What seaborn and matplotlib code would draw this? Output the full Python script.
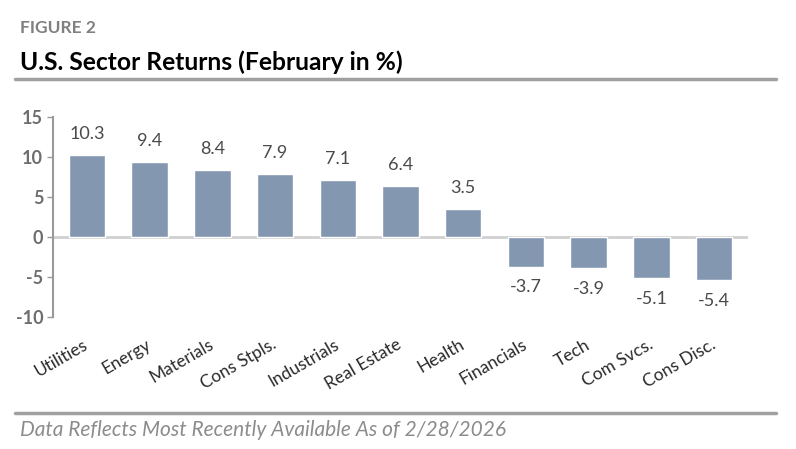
import pandas as pd
import matplotlib.pyplot as plt
import seaborn as sns
from matplotlib.lines import Line2D

# Data
sectors = ['Utilities', 'Energy', 'Materials', 'Cons Stpls.', 'Industrials', 'Real Estate',
           'Health', 'Financials', 'Tech', 'Com Svcs.', 'Cons Disc.']
returns = [10.3, 9.4, 8.4, 7.9, 7.1, 6.4, 3.5, -3.7, -3.9, -5.1, -5.4]
y_ticks = [-10, -5, 0, 5, 10, 15]

df = pd.DataFrame({'Sector': sectors, 'Return': returns})

sns.set_style('white')
plt.rcParams['font.family'] = ['Lato', 'DejaVu Sans']

fig = plt.figure(figsize=(7.96, 4.49), dpi=100)
ax = fig.add_axes([0.0666, 0.294, 0.873, 0.445])

sns.barplot(data=df, x='Sector', y='Return', color='#8497b0', width=0.58,
            saturation=1, ax=ax)

ax.set_xlim(-0.54, len(sectors) - 1 + 0.54)
ax.set_ylim(-10, 15)
ax.set_yticks(y_ticks)
ax.set_yticklabels([str(t) for t in y_ticks], fontsize=13, fontweight='bold', color='#6e6e6e')
ax.axhline(0, color='#d0d0d0', linewidth=2, zorder=0)

# value labels
for i, v in enumerate(returns):
    off = 15 if v > 0 else -15
    ax.annotate(f'{v}', (i, v), xytext=(0, off), textcoords='offset points',
                ha='center', va='center', fontsize=13, color='#4a4a4a')

ax.set_xlabel('')
ax.set_ylabel('')
ax.set_xticks(range(len(sectors)))
ax.set_xticklabels(sectors, rotation=30, ha='right', va='center', rotation_mode='anchor',
                   fontsize=12.5, color='#2a2a2a')
ax.tick_params(axis='x', length=0, pad=19)
ax.tick_params(axis='y', left=True, length=4, width=1, color='#999999', direction='out', pad=3)

for s in ['top', 'right', 'bottom']:
    ax.spines[s].set_visible(False)
ax.spines['left'].set_color('#999999')
ax.spines['left'].set_linewidth(1.5)

# header and footer
fig.text(0.025, 0.938, 'FIGURE 2', fontsize=12.5, fontweight='bold', color='#808080', va='center')
fig.text(0.025, 0.862, 'U.S. Sector Returns (February in %)', fontsize=17.7, fontweight='bold',
         color='black', va='center')
fig.add_artist(Line2D([0.019, 0.975], [0.825, 0.825], color='#a0a0a0', linewidth=2.5))
fig.add_artist(Line2D([0.019, 0.975], [0.08, 0.08], color='#a0a0a0', linewidth=2.5))
fig.text(0.025, 0.043, 'Data Reflects Most Recently Available As of 2/28/2026', fontsize=15,
         style='italic', color='#8c8c8c', va='center')

plt.savefig('out.png', dpi=100)
plt.close()
